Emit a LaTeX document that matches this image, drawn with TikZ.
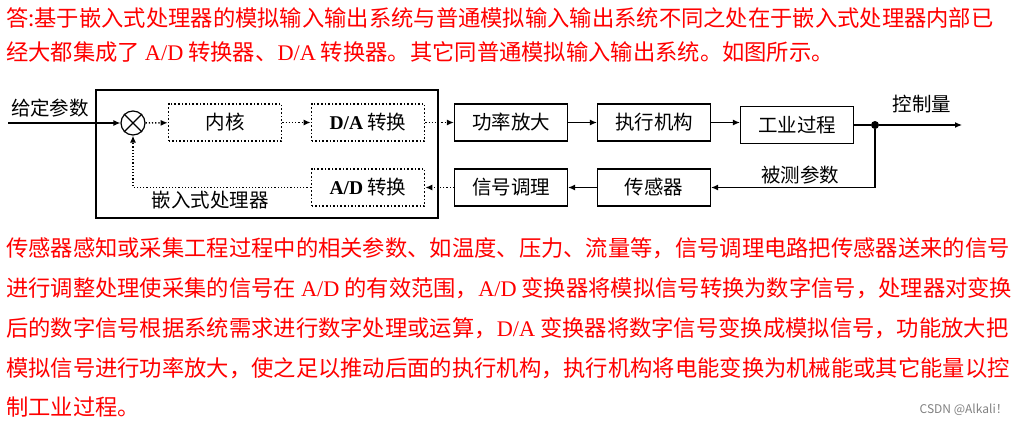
\documentclass[tikz,border=0pt]{standalone}
\usepackage{fontspec}
\setmainfont{Noto Sans CJK SC}
\newfontfamily\latinserif{Liberation Serif}
\usetikzlibrary{arrows.meta}
\begin{document}
\begin{tikzpicture}[x=1pt,y=-1pt,
  every node/.style={inner sep=0pt,font=\fontsize{19.5}{22}\selectfont},
  blk/.style={draw,line width=1.2pt,minimum width=113pt,minimum height=37pt},
  dblk/.style={draw,dotted,line width=1.6pt,minimum width=113pt,minimum height=37pt},
  para/.style={anchor=west,text=red,font=\fontsize{22.3}{24}\selectfont},
  arr/.style={-{Latex[length=7pt,width=6pt]},line width=1.2pt},
  darr/.style={arr,dotted,line width=1.6pt}]
\useasboundingbox (0,0) rectangle (1018,426);
\node[para] (t1) at (6,18) {答:基于嵌入式处理器的模拟输入输出系统与普通模拟输入输出系统不同之处在于嵌入式处理器内部已};
\node[para] (t2) at (6,52) {经大都集成了 {\latinserif A/D} 转换器、{\latinserif D/A} 转换器。其它同普通模拟输入输出系统。如图所示。};
\node[para] (p1) at (6,248) {传感器感知或采集工程过程中的相关参数、如温度、压力、流量等，信号调理电路把传感器送来的信号};
\node[para] (p2) at (6,288) {进行调整处理使采集的信号在 {\latinserif A/D} 的有效范围，{\latinserif A/D} 变换器将模拟信号转换为数字信号，处理器对变换};
\node[para] (p3) at (6,328) {后的数字信号根据系统需求进行数字处理或运算，{\latinserif D/A} 变换器将数字信号变换成模拟信号，功能放大把};
\node[para] (p4) at (6,368) {模拟信号进行功率放大，使之足以推动后面的执行机构，执行机构将电能变换为机械能或其它能量以控};
\node[para] (p5) at (6,407) {制工业过程。};
\node[anchor=east,text=gray,font=\fontsize{12}{14}\selectfont] (wm) at (1008,410) {CSDN @Alkali！};

\node[draw,line width=1.2pt,minimum width=342pt,minimum height=128pt] (proc) at (267,154) {};
\node[draw,circle,line width=1.2pt,minimum size=24pt] (sum) at (133,123) {};
\draw[line width=1.2pt] (sum.north west)--(sum.south east) (sum.north east)--(sum.south west);
\node[dblk] (core) at (225,122.5) {内核};
\node[dblk] (da) at (368,122.5) {{\latinserif\bfseries D/A} 转换};
\node[blk] (amp) at (511,122.5) {功率放大};
\node[blk] (act) at (654,122.5) {执行机构};
\node[blk] (proc2) at (797,125) {工业过程};
\node[dblk] (ad) at (368,187.5) {{\latinserif\bfseries A/D} 转换};
\node[blk] (cond) at (511,187.5) {信号调理};
\node[blk] (sens) at (654,187.5) {传感器};
\node (emb) at (210,200) {嵌入式处理器};
\node (in) at (50,108) {给定参数};
\coordinate (inS) at (8,123);
\node[circle,fill,minimum size=8pt] (dot) at (875,125) {};
\coordinate (out) at (962,125);
\node (outL) at (922,104) {控制量};
\node (meas) at (800,175) {被测参数};

\draw[arr] (inS) -- (sum);
\draw[darr] (sum) -- (core);
\draw[darr] (core) -- (da);
\draw[darr] (da) -- (amp);
\draw[arr] (amp) -- (act);
\draw[arr] (act.east) -- (proc2.west|-act.east);
\draw[line width=1.2pt] (proc2) -- (dot);
\draw[arr] (dot) -- (out);
\draw[arr] (dot) |- (sens);
\draw[arr] (sens) -- (cond);
\draw[darr] (cond) -- (ad);
\draw[darr] (ad.west) -| (sum.south);
\end{tikzpicture}
\end{document}
